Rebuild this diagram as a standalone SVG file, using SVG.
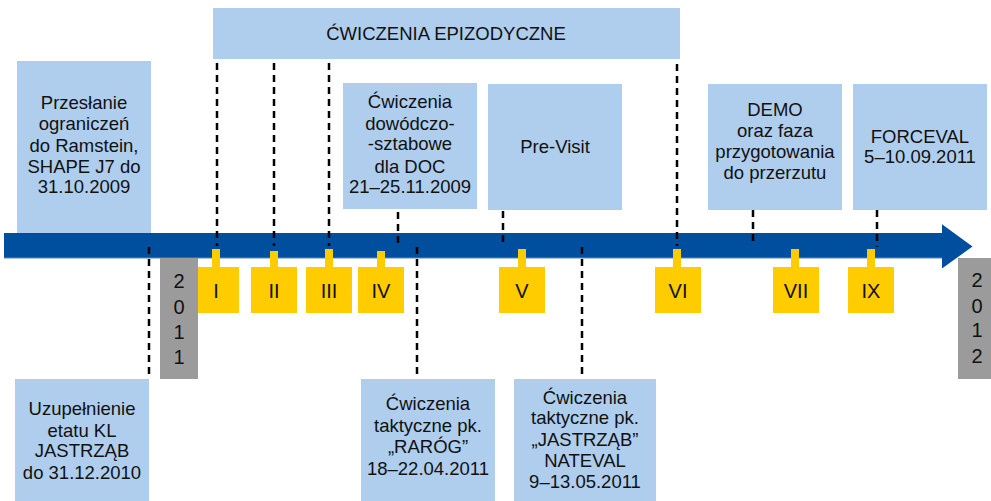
<svg xmlns="http://www.w3.org/2000/svg" width="991" height="501" viewBox="0 0 991 501">
  <style>
    .box { fill: #afcdec; }
    .txt { font-family: "Liberation Sans", Arial, sans-serif; font-size: 18.5px; fill: #111111; text-anchor: middle; }
    .num { font-family: "Liberation Sans", Arial, sans-serif; font-size: 20px; fill: #111111; text-anchor: middle; }
    .mark { fill: #ffcc00; }
    .year { fill: #9b9b9b; }
    .dash { stroke: #000000; stroke-width: 2.5; stroke-dasharray: 7 5; fill: none; }
  </style>

  <!-- event boxes above the axis -->
  <g id="epizodyczne">
    <rect class="box" x="213" y="8" width="467" height="51"/>
    <text class="txt" x="446" y="40">ĆWICZENIA EPIZODYCZNE</text>
  </g>
  <g id="przeslanie">
    <rect class="box" x="17" y="61" width="134" height="180"/>
    <text class="txt" x="84" y="109">Przesłanie</text>
    <text class="txt" x="84" y="130">ograniczeń</text>
    <text class="txt" x="84" y="152">do Ramstein,</text>
    <text class="txt" x="84" y="173">SHAPE J7 do</text>
    <text class="txt" x="84" y="193">31.10.2009</text>
  </g>
  <g id="dowodczo">
    <rect class="box" x="343" y="83" width="134" height="126"/>
    <text class="txt" x="410" y="108">Ćwiczenia</text>
    <text class="txt" x="410" y="130">dowódczo-</text>
    <text class="txt" x="410" y="150">-sztabowe</text>
    <text class="txt" x="410" y="173">dla DOC</text>
    <text class="txt" x="410" y="193">21–25.11.2009</text>
  </g>
  <g id="previsit">
    <rect class="box" x="488" y="84" width="134" height="126"/>
    <text class="txt" x="555" y="153">Pre-Visit</text>
  </g>
  <g id="demo">
    <rect class="box" x="708" y="84" width="134" height="126"/>
    <text class="txt" x="775" y="116">DEMO</text>
    <text class="txt" x="775" y="137">oraz faza</text>
    <text class="txt" x="775" y="158">przygotowania</text>
    <text class="txt" x="775" y="179">do przerzutu</text>
  </g>
  <g id="forceval">
    <rect class="box" x="853" y="84" width="134" height="126"/>
    <text class="txt" x="920" y="143">FORCEVAL</text>
    <text class="txt" x="920" y="163">5–10.09.2011</text>
  </g>

  <!-- event boxes below the axis -->
  <g id="uzupelnienie">
    <rect class="box" x="15" y="379" width="134" height="122"/>
    <text class="txt" x="82" y="415">Uzupełnienie</text>
    <text class="txt" x="82" y="437">etatu KL</text>
    <text class="txt" x="82" y="457">JASTRZĄB</text>
    <text class="txt" x="82" y="479">do 31.12.2010</text>
  </g>
  <g id="rarog">
    <rect class="box" x="361" y="379" width="134" height="122"/>
    <text class="txt" x="428" y="410">Ćwiczenia</text>
    <text class="txt" x="428" y="432">taktyczne pk.</text>
    <text class="txt" x="428" y="453">„RARÓG”</text>
    <text class="txt" x="428" y="475">18–22.04.2011</text>
  </g>
  <g id="jastrzab">
    <rect class="box" x="514" y="379" width="142" height="122"/>
    <text class="txt" x="585" y="404">Ćwiczenia</text>
    <text class="txt" x="585" y="424">taktyczne pk.</text>
    <text class="txt" x="585" y="446">„JASTRZĄB”</text>
    <text class="txt" x="585" y="467">NATEVAL</text>
    <text class="txt" x="585" y="488">9–13.05.2011</text>
  </g>

  <!-- time axis -->
  <g id="axis">
    <path d="M4,233 H942 V224.3 L972.5,246.5 L942,268.5 V258 H4 Z" fill="#004f9e"/>
    <line x1="4" y1="258" x2="942" y2="258" stroke="#5b86bf" stroke-width="1"/>
  </g>

  <!-- numbered markers -->
  <g id="marker-I"><rect class="mark" x="212" y="249" width="8" height="20"/><rect class="mark" x="193" y="267" width="46" height="46"/><text class="num" x="216" y="298">I</text></g>
  <g id="marker-II"><rect class="mark" x="270" y="251" width="8" height="18"/><rect class="mark" x="251" y="267" width="46" height="46"/><text class="num" x="274" y="298">II</text></g>
  <g id="marker-III"><rect class="mark" x="325" y="249" width="8" height="20"/><rect class="mark" x="306" y="267" width="46" height="46"/><text class="num" x="329" y="298">III</text></g>
  <g id="marker-IV"><rect class="mark" x="377" y="251" width="8" height="18"/><rect class="mark" x="358" y="267" width="46" height="46"/><text class="num" x="381" y="298">IV</text></g>
  <g id="marker-V"><rect class="mark" x="518" y="249" width="8" height="20"/><rect class="mark" x="499" y="267" width="46" height="46"/><text class="num" x="522" y="298">V</text></g>
  <g id="marker-VI"><rect class="mark" x="673" y="249" width="8" height="20"/><rect class="mark" x="655" y="267" width="46" height="46"/><text class="num" x="678" y="298">VI</text></g>
  <g id="marker-VII"><rect class="mark" x="791" y="249" width="8" height="20"/><rect class="mark" x="773" y="267" width="46" height="46"/><text class="num" x="796" y="298">VII</text></g>
  <g id="marker-IX"><rect class="mark" x="867" y="249" width="8" height="20"/><rect class="mark" x="848" y="267" width="46" height="46"/><text class="num" x="871" y="298">IX</text></g>

  <!-- year labels -->
  <g id="year-2011">
    <rect class="year" x="160" y="258" width="38" height="121"/>
    <text class="num" x="179" y="288">2</text>
    <text class="num" x="179" y="314">0</text>
    <text class="num" x="179" y="339">1</text>
    <text class="num" x="179" y="364">1</text>
  </g>
  <g id="year-2012">
    <rect class="year" x="958" y="258" width="33" height="121"/>
    <text class="num" x="977" y="287">2</text>
    <text class="num" x="977" y="313">0</text>
    <text class="num" x="977" y="337">1</text>
    <text class="num" x="977" y="363">2</text>
  </g>

  <!-- dashed leader lines -->
  <g id="connectors">
    <line class="dash" x1="217" y1="63" x2="217" y2="246"/>
    <line class="dash" x1="274" y1="63" x2="274" y2="246"/>
    <line class="dash" x1="329" y1="63" x2="329" y2="246"/>
    <line class="dash" x1="677" y1="64" x2="677" y2="246"/>
    <line class="dash" x1="398" y1="212" x2="398" y2="246"/>
    <line class="dash" x1="503" y1="211" x2="503" y2="246"/>
    <line class="dash" x1="753" y1="210" x2="753" y2="246"/>
    <line class="dash" x1="877" y1="210" x2="877" y2="247"/>
    <line class="dash" x1="149" y1="247" x2="149" y2="375"/>
    <line class="dash" x1="417" y1="247" x2="417" y2="375"/>
    <line class="dash" x1="582" y1="247" x2="582" y2="375"/>
  </g>
</svg>
